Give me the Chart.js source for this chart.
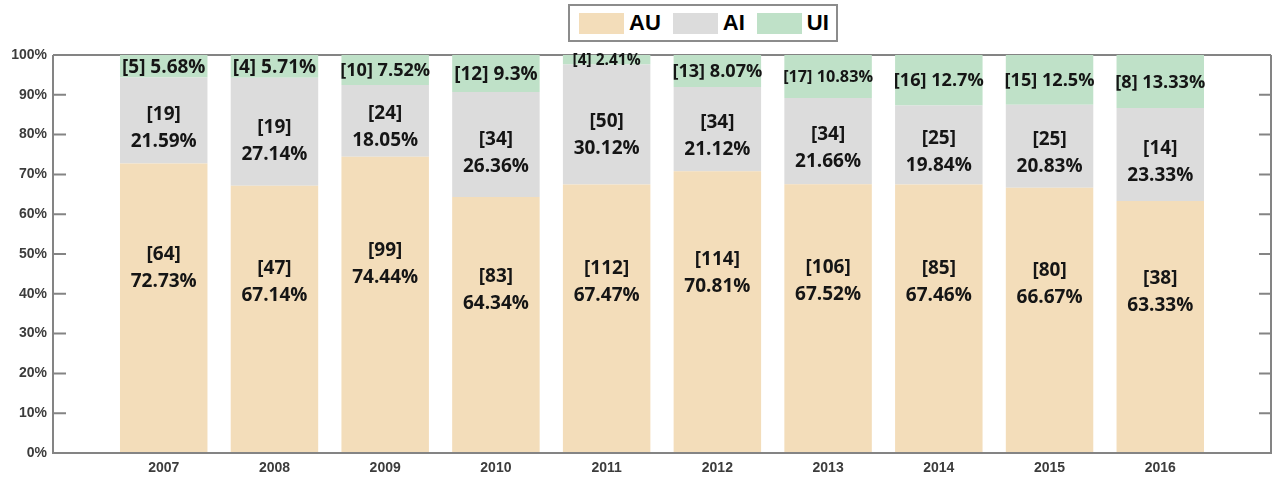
<!DOCTYPE html>
<html>
<head>
<meta charset="utf-8">
<script src="https://cdn.jsdelivr.net/npm/chart.js@4.4.0/dist/chart.umd.min.js"></script>
<style>
    body { margin: 0; background: #fff; }
    #wrap { position: relative; width: 1278px; height: 480px; }
    #legend {
        position: absolute; left: 568px; top: 4px; height: 34px;
        border: 2px solid #8c8c8c; background: #fff;
        display: flex; align-items: center; padding: 0 7px 0 9px;
        font: bold 22px "Liberation Sans", Arial, sans-serif; color: #000;
    }
    .item { display: flex; align-items: center; margin-right: 12px; }
    .item:last-child { margin-right: 0; }
    .swatch { width: 45px; height: 21px; margin-right: 5px; }
</style>
</head>
<body>
<div id="wrap">
    <canvas id="chart" width="1278" height="480"></canvas>
    <div id="legend"></div>
</div>
<script>
const years = ['2007', '2008', '2009', '2010', '2011', '2012', '2013', '2014', '2015', '2016'];

// counts shown in brackets
const auCount = [64, 47, 99, 83, 112, 114, 106, 85, 80, 38];
const aiCount = [19, 19, 24, 34, 50, 34, 34, 25, 25, 14];
const uiCount = [5, 4, 10, 12, 4, 13, 17, 16, 15, 8];

// share of each year, in %
const auPct = [72.73, 67.14, 74.44, 64.34, 67.47, 70.81, 67.52, 67.46, 66.67, 63.33];
const aiPct = [21.59, 27.14, 18.05, 26.36, 30.12, 21.12, 21.66, 19.84, 20.83, 23.33];
const uiPct = [5.68, 5.71, 7.52, 9.3, 2.41, 8.07, 10.83, 12.7, 12.5, 13.33];

const yTicks = [0, 10, 20, 30, 40, 50, 60, 70, 80, 90, 100];

const axisColor = '#848484';
const tickFont = { family: '"Liberation Sans", Arial, sans-serif', size: 14, weight: 'bold' };
const labelFamily = '"Open Sans", "Noto Sans", sans-serif';

// blank slots on both ends give the half-gap the original axis has
const pad = (arr) => [null, ...arr, null];

const framePlugin = {
    id: 'frame',
    beforeDatasetsDraw(chart) {
        const { ctx, chartArea: a } = chart;
        ctx.save();
        ctx.strokeStyle = axisColor;
        ctx.lineWidth = 2;
        ctx.beginPath();
        ctx.moveTo(a.left, a.top);
        ctx.lineTo(a.right, a.top);
        ctx.stroke();
        ctx.restore();
    },
    afterDatasetsDraw(chart) {
        const { ctx, chartArea: a } = chart;
        const y = chart.scales.y;
        ctx.save();
        ctx.strokeStyle = axisColor;
        ctx.lineWidth = 2;
        ctx.beginPath();
        ctx.moveTo(a.left, a.top);
        ctx.lineTo(a.left, a.bottom);
        ctx.lineTo(a.right, a.bottom);
        ctx.lineTo(a.right, a.top);
        ctx.stroke();
        yTicks.forEach((v) => {
            if (v === 0 || v === 100) return;
            const py = y.getPixelForValue(v);
            ctx.beginPath();
            ctx.moveTo(a.left, py);
            ctx.lineTo(a.left + 13, py);
            ctx.moveTo(a.right, py);
            ctx.lineTo(a.right - 12, py);
            ctx.stroke();
        });
        ctx.restore();
    }
};

const labelPlugin = {
    id: 'segLabels',
    afterDatasetsDraw(chart) {
        const ctx = chart.ctx;
        ctx.save();
        ctx.fillStyle = '#151515';
        ctx.textAlign = 'center';
        ctx.textBaseline = 'middle';
        chart.data.datasets.forEach((ds, di) => {
            const meta = chart.getDatasetMeta(di);
            meta.data.forEach((bar, i) => {
                const p = ds.data[i];
                if (p == null) return;
                const n = ds.counts[i];
                const top = bar.y, bottom = bar.base;
                const h = bottom - top;
                if (di === 2) {
                    const txt = `[${n}] ${p}%`;
                    ctx.font = `bold 19px ${labelFamily}`;
                    const w = ctx.measureText(txt).width;
                    let size = Math.min(19, 19 * 90 / w);
                    if (h < 15) size = Math.min(size, 15.5);
                    ctx.font = `bold ${size}px ${labelFamily}`;
                    ctx.fillText(txt, bar.x, top + h / 2 + 1);
                } else {
                    const frac = di === 0 ? 0.64 : 0.42;
                    const cy = bottom - h * frac;
                    ctx.font = `bold 19px ${labelFamily}`;
                    ctx.fillText(`[${n}]`, bar.x, cy - 13);
                    ctx.fillText(`${p}%`, bar.x, cy + 14);
                }
            });
        });
        ctx.restore();
    }
};

const chart = new Chart(document.getElementById('chart'), {
    type: 'bar',
    data: {
        labels: pad(years).map((v) => v || ''),
        datasets: [
            { label: 'AU', data: pad(auPct), counts: pad(auCount), backgroundColor: '#F3DDBA' },
            { label: 'AI', data: pad(aiPct), counts: pad(aiCount), backgroundColor: '#DCDCDC' },
            { label: 'UI', data: pad(uiPct), counts: pad(uiCount), backgroundColor: '#BFE1C8' }
        ]
    },
    options: {
        responsive: false,
        animation: false,
        layout: { padding: { top: 55, right: 2, bottom: 0, left: 0 } },
        datasets: { bar: { categoryPercentage: 1, barPercentage: 0.79, borderWidth: 0 } },
        plugins: { legend: { display: false }, tooltip: { enabled: false } },
        scales: {
            x: {
                stacked: true,
                offset: false,
                grid: { display: false, drawTicks: false },
                border: { display: false },
                ticks: { font: tickFont, color: '#3c3c3c', padding: 7, autoSkip: false, maxRotation: 0 },
                afterFit: (s) => { s.height = 27; }
            },
            y: {
                stacked: true,
                min: 0,
                max: 100,
                grid: { display: false, drawTicks: false },
                border: { display: false },
                afterBuildTicks: (s) => { s.ticks = yTicks.map((v) => ({ value: v })); },
                ticks: { font: tickFont, color: '#3c3c3c', padding: 6, callback: (v) => v + '%' },
                afterFit: (s) => { s.width = 53; }
            }
        }
    },
    plugins: [framePlugin, labelPlugin]
});

// legend box built from the chart's own datasets
document.getElementById('legend').innerHTML = chart.data.datasets.map((ds) =>
    `<div class="item"><div class="swatch" style="background:${ds.backgroundColor}"></div><span>${ds.label}</span></div>`
).join('');
</script>
</body>
</html>
